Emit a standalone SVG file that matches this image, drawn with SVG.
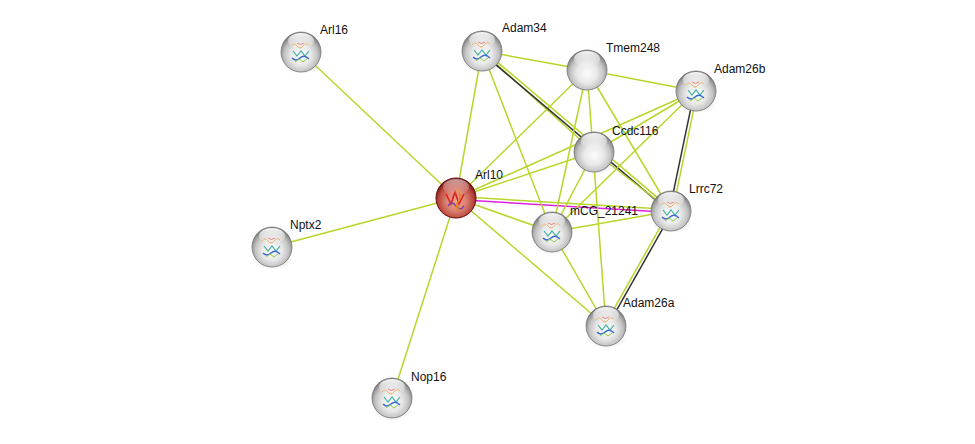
<svg xmlns="http://www.w3.org/2000/svg" width="975" height="444" viewBox="0 0 975 444">
<defs>
<radialGradient id="gw" cx="50%" cy="58%" r="55%">
<stop offset="0" stop-color="#fbfbfb"/>
<stop offset="0.45" stop-color="#e9e9e9"/>
<stop offset="0.75" stop-color="#c4c4c4"/>
<stop offset="0.92" stop-color="#969696"/>
<stop offset="1" stop-color="#7a7a7a"/>
</radialGradient>
<radialGradient id="gr" cx="50%" cy="58%" r="55%">
<stop offset="0" stop-color="#eaa394"/>
<stop offset="0.45" stop-color="#dc8272"/>
<stop offset="0.78" stop-color="#bb4a40"/>
<stop offset="1" stop-color="#7a1414"/>
</radialGradient>
<radialGradient id="sh" cx="50%" cy="50%" r="50%">
<stop offset="0" stop-color="#000" stop-opacity="0.18"/>
<stop offset="1" stop-color="#000" stop-opacity="0"/>
</radialGradient>
<linearGradient id="hl" x1="0" y1="0" x2="0" y2="1">
<stop offset="0" stop-color="#ffffff" stop-opacity="0.95"/>
<stop offset="1" stop-color="#ffffff" stop-opacity="0"/>
</linearGradient>
<g id="prot">
<path d="M-10,-8 q3,-4 6,0 t6,0 t6,-1" fill="none" stroke="#e8a040" stroke-width="1"/>
<path d="M-8,-3 l4,5 l4,-5 l4,5 l4,-5" fill="none" stroke="#40b0a0" stroke-width="1.2"/>
<path d="M-9,4 q4,4 8,0 t9,1" fill="none" stroke="#3a6ad0" stroke-width="1.4"/>
<path d="M-4,-11 q3,3 7,0" fill="none" stroke="#e05050" stroke-width="1"/>
<path d="M-6,8 l4,-3 l4,3 l4,-3" fill="none" stroke="#8fd04a" stroke-width="1"/>
</g>
<g id="protr">
<path d="M-10,-6 l5,10 l4,-12 l4,12 l5,-10" fill="none" stroke="#e02020" stroke-width="1.6"/>
<path d="M-8,6 q4,-6 8,0 t8,0" fill="none" stroke="#8040a0" stroke-width="1.4"/>
<path d="M2,-10 q4,6 0,12 t2,8" fill="none" stroke="#e08a10" stroke-width="1.4"/>
</g>
</defs>
<style>
.e{stroke:#b8d62a;stroke-width:1.5;fill:none}
.k{stroke:#333333;stroke-width:1.5;fill:none}
.m{stroke:#dd22dd;stroke-width:1.5;fill:none}
.b{fill:url(#gw);stroke:#777777;stroke-width:0.8}
.br{fill:url(#gr);stroke:#6a0c0c;stroke-width:1}
.h{fill:url(#hl)}
.s{fill:url(#sh)}
text{font-family:"Liberation Sans",Arial,sans-serif;font-size:12px;fill:#111}
</style>
<rect width="975" height="444" fill="#ffffff"/>
<g id="edges">
<line class="e" x1="456" y1="198" x2="301" y2="52"/>
<line class="e" x1="456" y1="198" x2="272" y2="247"/>
<line class="e" x1="456" y1="198" x2="392" y2="398"/>
<line class="e" x1="456" y1="198" x2="482" y2="51"/>
<line class="e" x1="456" y1="198" x2="587" y2="70"/>
<line class="e" x1="456" y1="198" x2="594" y2="152"/>
<line class="e" x1="456" y1="198" x2="696" y2="91"/>
<line class="e" x1="456" y1="198" x2="552" y2="232"/>
<line class="e" x1="456" y1="198" x2="606" y2="326"/>
<line class="e" x1="456" y1="196.5" x2="671" y2="209.5"/>
<line class="m" x1="456" y1="199.5" x2="671" y2="212.5"/>
<line class="e" x1="482" y1="51" x2="587" y2="70"/>
<line class="e" x1="587" y1="70" x2="696" y2="91"/>
<line class="e" x1="482" y1="51" x2="594" y2="152"/>
<line class="e" x1="482" y1="51" x2="552" y2="232"/>
<line class="e" x1="483" y1="49.9" x2="672" y2="209.9"/>
<line class="k" x1="481" y1="52.1" x2="670" y2="212.1"/>
<line class="e" x1="587" y1="70" x2="552" y2="232"/>
<line class="e" x1="587" y1="70" x2="606" y2="326"/>
<line class="e" x1="587" y1="70" x2="671" y2="211"/>
<line class="e" x1="696" y1="91" x2="594" y2="152"/>
<line class="e" x1="696" y1="91" x2="552" y2="232"/>
<line class="k" x1="694.5" y1="90.7" x2="669.5" y2="210.7"/>
<line class="e" x1="697.5" y1="91.3" x2="672.5" y2="211.3"/>
<line class="e" x1="594" y1="152" x2="552" y2="232"/>
<line class="e" x1="594" y1="152" x2="671" y2="211"/>
<line class="e" x1="552" y1="232" x2="671" y2="211"/>
<line class="e" x1="552" y1="232" x2="606" y2="326"/>
<line class="e" x1="669.7" y1="210.3" x2="604.7" y2="325.3"/>
<line class="k" x1="672.3" y1="211.7" x2="607.3" y2="326.7"/>
</g>
<g id="node-Arl16"><ellipse class="s" cx="302" cy="66" rx="20" ry="8"/><circle class="b" cx="301" cy="52" r="20"/><use href="#prot" x="301" y="54"/><ellipse class="h" cx="301" cy="41" rx="13" ry="8"/><text x="320" y="34">Arl16</text></g>
<g id="node-Adam34"><ellipse class="s" cx="483" cy="65" rx="20" ry="8"/><circle class="b" cx="482" cy="51" r="20"/><use href="#prot" x="482" y="53"/><ellipse class="h" cx="482" cy="40" rx="13" ry="8"/><text x="502" y="32">Adam34</text></g>
<g id="node-Tmem248"><ellipse class="s" cx="588" cy="84" rx="20" ry="8"/><circle class="b" cx="587" cy="70" r="20"/><ellipse class="h" cx="587" cy="59" rx="13" ry="8"/><text x="606" y="52">Tmem248</text></g>
<g id="node-Adam26b"><ellipse class="s" cx="697" cy="105" rx="20" ry="8"/><circle class="b" cx="696" cy="91" r="20"/><use href="#prot" x="696" y="93"/><ellipse class="h" cx="696" cy="80" rx="13" ry="8"/><text x="714" y="73">Adam26b</text></g>
<g id="node-Ccdc116"><ellipse class="s" cx="595" cy="166" rx="20" ry="8"/><circle class="b" cx="594" cy="152" r="20"/><ellipse class="h" cx="594" cy="141" rx="13" ry="8"/><text x="612" y="135">Ccdc116</text></g>
<g id="node-Arl10"><ellipse class="s" cx="457" cy="212" rx="20" ry="8"/><circle class="br" cx="456" cy="198" r="20"/><use href="#protr" x="456" y="200"/><ellipse class="h" cx="456" cy="187" rx="13" ry="8" opacity="0.6"/><text x="475" y="179">Arl10</text></g>
<g id="node-Lrrc72"><ellipse class="s" cx="672" cy="225" rx="20" ry="8"/><circle class="b" cx="671" cy="211" r="20"/><use href="#prot" x="671" y="213"/><ellipse class="h" cx="671" cy="200" rx="13" ry="8"/><text x="689" y="193">Lrrc72</text></g>
<g id="node-mCG_21241"><ellipse class="s" cx="553" cy="246" rx="20" ry="8"/><circle class="b" cx="552" cy="232" r="20"/><use href="#prot" x="552" y="234"/><ellipse class="h" cx="552" cy="221" rx="13" ry="8"/><text x="570" y="215">mCG_21241</text></g>
<g id="node-Nptx2"><ellipse class="s" cx="273" cy="261" rx="20" ry="8"/><circle class="b" cx="272" cy="247" r="20"/><use href="#prot" x="272" y="249"/><ellipse class="h" cx="272" cy="236" rx="13" ry="8"/><text x="290" y="229">Nptx2</text></g>
<g id="node-Adam26a"><ellipse class="s" cx="607" cy="340" rx="20" ry="8"/><circle class="b" cx="606" cy="326" r="20"/><use href="#prot" x="606" y="328"/><ellipse class="h" cx="606" cy="315" rx="13" ry="8"/><text x="623" y="307">Adam26a</text></g>
<g id="node-Nop16"><ellipse class="s" cx="393" cy="412" rx="20" ry="8"/><circle class="b" cx="392" cy="398" r="20"/><use href="#prot" x="392" y="400"/><ellipse class="h" cx="392" cy="387" rx="13" ry="8"/><text x="411" y="381">Nop16</text></g>
</svg>
